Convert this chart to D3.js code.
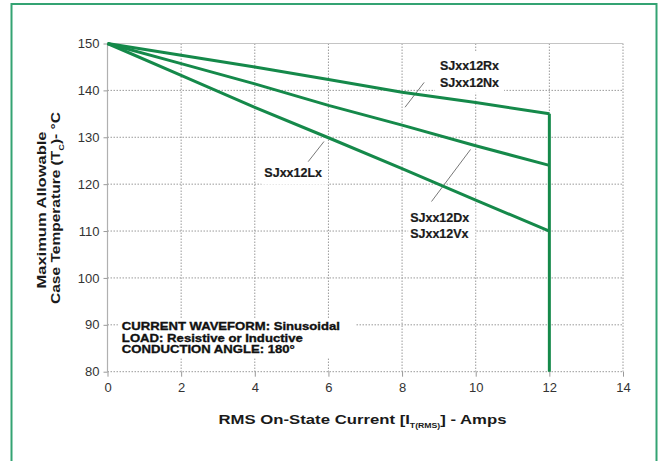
<!DOCTYPE html>
<html>
<head>
<meta charset="utf-8">
<script src="https://cdn.jsdelivr.net/npm/d3@7"></script>
<style>
  html, body { margin: 0; padding: 0; background: #fff; }
  svg { display: block; font-family: "Liberation Sans", Arial, sans-serif; }
</style>
</head>
<body>
<svg id="chart" width="662" height="461"></svg>
<script>
// ---- data ----
const currentAmps = [0, 2, 4, 6, 8, 10, 12];
const tempRxNx = [150, 147.5, 145, 142.3, 139.6, 137.4, 135];
const tempDxVx = [150, 145.7, 141.4, 136.8, 132.6, 128.2, 124];
const tempLx   = [150, 143.2, 136.4, 129.9, 123.3, 116.6, 110];
const cutoffAmps = [12, 12];
const cutoffTemp = [135, 80];
const xTicks = [0, 2, 4, 6, 8, 10, 12, 14];
const yTicks = [80, 90, 100, 110, 120, 130, 140, 150];
const noteLines = ["CURRENT WAVEFORM: Sinusoidal", "LOAD: Resistive or Inductive", "CONDUCTION ANGLE: 180°"];
const labelNames = [["SJxx12Rx", "SJxx12Nx"], ["SJxx12Dx", "SJxx12Vx"], ["SJxx12Lx"]];
// label anchor (amps, °C of first baseline) and leader line endpoints (amps, °C)
const labelAnchors = [[9.03, 144.3], [8.22, 112.0], [4.26, 121.6]];
const leaderFrom = [[8.08, 136.4], [8.80, 116.3], [5.45, 124.8]];
const leaderTo   = [[8.60, 141.7], [9.86, 127.4], [5.88, 129.1]];
const noteAnchor = [0.39, 88.9];

// ---- layout ----
const svg = d3.select("#chart");
const x = d3.scaleLinear().domain([0, 14]).range([107.5, 623]);
const y = d3.scaleLinear().domain([80, 150]).range([371.7, 43.5]);
const green = "#15894a";
const gridCol = "#9a9a9a";

// outer border
svg.append("rect").attr("x", 11.5).attr("y", 4).attr("width", 645).attr("height", 480)
  .attr("fill", "none").attr("stroke", "#34a373").attr("stroke-width", 2);

// grid
const g = svg.append("g");
g.selectAll(".vg").data(xTicks.slice(1)).join("line")
  .attr("x1", d => x(d)).attr("x2", d => x(d))
  .attr("y1", y(150)).attr("y2", y(80))
  .attr("stroke", gridCol).attr("stroke-width", 1).attr("stroke-dasharray", "1.5,1.5");
g.selectAll(".hg").data(yTicks.filter(d => d < 150)).join("line")
  .attr("x1", x(0)).attr("x2", x(14))
  .attr("y1", d => y(d)).attr("y2", d => y(d))
  .attr("stroke", gridCol).attr("stroke-width", 1).attr("stroke-dasharray", "1.5,1.5");
// top and left frame solid
g.append("line").attr("x1", x(0)).attr("x2", x(14)).attr("y1", y(150)).attr("y2", y(150))
  .attr("stroke", "#c4c4c4").attr("stroke-width", 1);
g.append("line").attr("x1", x(0)).attr("x2", x(0)).attr("y1", y(150)).attr("y2", y(80))
  .attr("stroke", "#b0b0b0").attr("stroke-width", 1.2);

// axes
const yAxis = svg.append("g").attr("transform", `translate(${x(0)},0)`)
  .call(d3.axisLeft(y).tickValues(yTicks).tickSize(4).tickPadding(4).tickFormat(d3.format("d")));
const xAxis = svg.append("g").attr("transform", `translate(0,${y(80)})`)
  .call(d3.axisBottom(x).tickValues(xTicks).tickSize(5).tickPadding(6).tickFormat(d3.format("d")));
[yAxis, xAxis].forEach(a => {
  a.select(".domain").remove();
  a.selectAll(".tick line").attr("stroke", "#999");
  a.selectAll(".tick text").attr("font-size", 13).attr("fill", "#333")
    .attr("font-family", "\"Liberation Sans\", Arial, sans-serif");
});

// white boxes behind labels are added after text measurement
const boxLayer = svg.append("g");
const leaderLayer = svg.append("g");
const textLayer = svg.append("g");

// notes
const noteG = textLayer.append("g");
const noteLens = [218, 181, 173];
noteLines.forEach((t, i) => {
  noteG.append("text")
    .attr("x", x(noteAnchor[0])).attr("y", y(noteAnchor[1]) + i * 11.6)
    .attr("font-size", 11.5).attr("font-weight", "bold").attr("fill", "#111")
    .attr("stroke", "#111").attr("stroke-width", 0.35)
    .attr("textLength", noteLens[i]).attr("lengthAdjust", "spacingAndGlyphs")
    .text(t);
});

// series labels
const labelGroups = labelNames.map((names, i) => {
  const lg = textLayer.append("g");
  names.forEach((n, j) => {
    lg.append("text")
      .attr("x", x(labelAnchors[i][0])).attr("y", y(labelAnchors[i][1]) + j * 16.6)
      .attr("font-size", 12.5).attr("font-weight", "bold").attr("fill", "#1a1a1a")
      .attr("stroke", "#1a1a1a").attr("stroke-width", 0.2)
      .text(n);
  });
  return lg;
});

// boxes
const pads = [[5, 8, 5, 3], [2, 5, 6, 5], [3, 4, 6, 5]]; // left,top,right,bottom
labelGroups.forEach((lg, i) => {
  const b = lg.node().getBBox();
  const p = pads[i];
  boxLayer.append("rect").attr("x", b.x - p[0]).attr("y", b.y - p[1])
    .attr("width", b.width + p[0] + p[2]).attr("height", b.height + p[1] + p[3]).attr("fill", "#fff");
});
{
  const b = noteG.node().getBBox();
  boxLayer.append("rect").attr("x", b.x - 4).attr("y", b.y - 2)
    .attr("width", b.width + 20).attr("height", b.height + 5).attr("fill", "#fff");
}

// leader lines
leaderLayer.selectAll("line").data(leaderFrom.map((f, i) => [f, leaderTo[i]])).join("line")
  .attr("x1", d => x(d[0][0])).attr("y1", d => y(d[0][1]))
  .attr("x2", d => x(d[1][0])).attr("y2", d => y(d[1][1]))
  .attr("stroke", "#555").attr("stroke-width", 0.8);

// series lines
const line = d3.line().x(d => x(d[0])).y(d => y(d[1]));
const series = [tempRxNx, tempDxVx, tempLx].map(s => currentAmps.map((a, i) => [a, s[i]]));
series.push(cutoffAmps.map((a, i) => [a, cutoffTemp[i]]));
svg.append("g").selectAll("path").data(series).join("path")
  .attr("d", line).attr("fill", "none").attr("stroke", green)
  .attr("stroke-width", 3).attr("stroke-linejoin", "round").attr("stroke-linecap", "butt");

// axis titles
const xt = svg.append("text").attr("x", 218.5).attr("y", 424)
  .attr("font-size", 13.5).attr("font-weight", "bold").attr("fill", "#1a1a1a")
  .attr("textLength", 288).attr("lengthAdjust", "spacingAndGlyphs");
xt.append("tspan").text("RMS On-State Current [I");
xt.append("tspan").attr("font-size", 7).attr("dy", 4).text("T(RMS)");
xt.append("tspan").attr("dy", -4).text("] - Amps");

const yt1 = svg.append("text").attr("transform", "translate(45.5,210) rotate(-90)")
  .attr("text-anchor", "middle").attr("font-size", 13.5).attr("font-weight", "bold").attr("fill", "#1a1a1a")
  .attr("textLength", 157).attr("lengthAdjust", "spacingAndGlyphs")
  .text("Maximum Allowable");
const yt2 = svg.append("text").attr("transform", "translate(59.5,208) rotate(-90)")
  .attr("text-anchor", "middle").attr("font-size", 13.5).attr("font-weight", "bold").attr("fill", "#1a1a1a")
  .attr("textLength", 192).attr("lengthAdjust", "spacingAndGlyphs");
yt2.append("tspan").text("Case Temperature (T");
yt2.append("tspan").attr("font-size", 8).attr("dy", 4).text("C");
yt2.append("tspan").attr("dy", -4).text(")- °C");
</script>
</body>
</html>
